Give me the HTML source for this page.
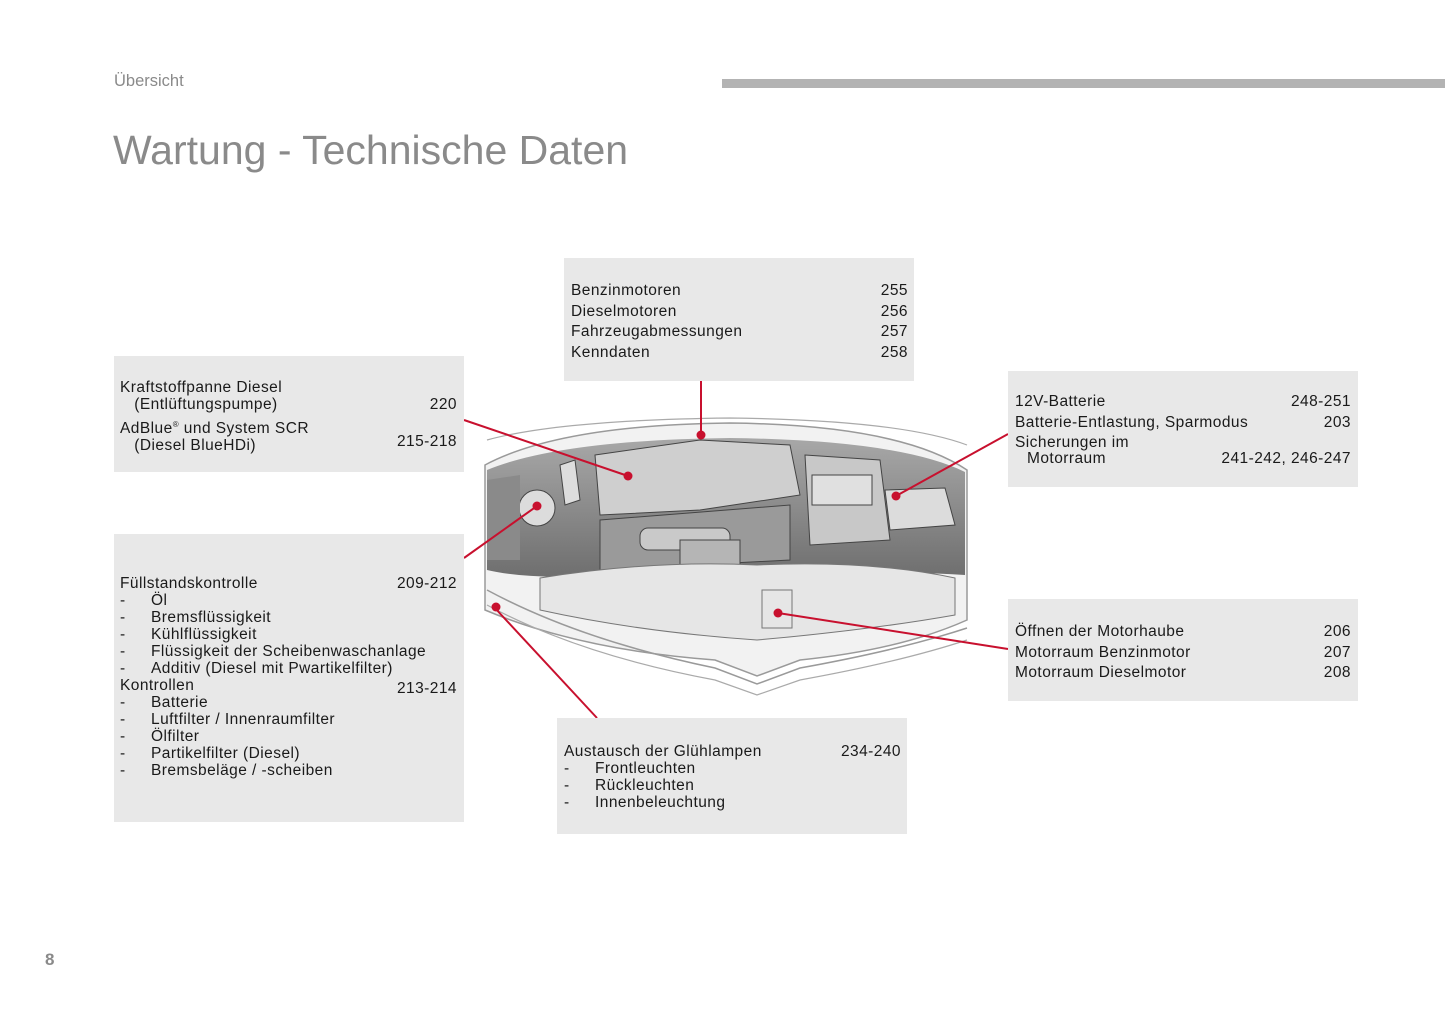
<!DOCTYPE html>
<html><head><meta charset="utf-8"><style>
body{margin:0;width:1445px;height:1026px;background:#fff;position:relative;overflow:hidden;font-family:"Liberation Sans",sans-serif;color:#1a1a1a}
.a{position:absolute}
.box{position:absolute;background:#e8e8e8}
.l{position:absolute;font-size:15.5px;letter-spacing:0.45px;line-height:17px;white-space:nowrap}
.r{position:absolute;font-size:15.5px;letter-spacing:0.45px;line-height:17px;text-align:right;white-space:nowrap}
.d{display:inline-block;width:31px}
.d2{display:inline-block;width:31px}
</style></head><body>
<div class="a" style="left:114px;top:72px;font-size:16.5px;color:#8a8a8a">Übersicht</div>
<div class="a" style="left:722px;top:79px;width:723px;height:9px;background:#b3b3b3"></div>
<div class="a" style="left:113px;top:125px;font-size:41px;color:#8a8a8a;line-height:50px">Wartung - Technische Daten</div>
<div class="a" style="left:45px;top:950px;font-size:17px;font-weight:bold;color:#8a8a8a">8</div>

<svg class="a" style="left:0;top:0" width="1445" height="1026">
<defs><linearGradient id="g" x1="0" y1="0" x2="0" y2="1"><stop offset="0" stop-color="#a8a8a8"/><stop offset="1" stop-color="#6e6e6e"/></linearGradient></defs>
<path d="M485 465 Q560 425 730 423 Q900 425 967 470 L967 620 Q900 650 800 660 L757 676 L715 660 Q580 650 485 610 Z" fill="#f2f2f2" stroke="#9a9a9a" stroke-width="1.5"/>
<path d="M487 470 Q560 440 730 438 Q900 440 965 472 L965 575 Q900 570 800 578 L600 575 Q530 580 487 570 Z" fill="url(#g)"/>
<path d="M595 455 L700 440 L790 445 L800 495 L700 510 L600 515 Z" fill="#cfcfcf" stroke="#444"/>
<path d="M600 520 L790 505 L790 560 L600 570 Z" fill="#9a9a9a" stroke="#444"/>
<rect x="640" y="528" width="90" height="22" rx="8" fill="#c9c9c9" stroke="#444"/>
<rect x="680" y="540" width="60" height="50" fill="#b5b5b5" stroke="#444"/>
<path d="M805 455 L880 460 L890 540 L810 545 Z" fill="#c8c8c8" stroke="#444"/>
<rect x="812" y="475" width="60" height="30" fill="#e0e0e0" stroke="#444"/>
<path d="M885 490 L945 488 L955 525 L890 530 Z" fill="#dcdcdc" stroke="#444"/>
<circle cx="537" cy="508" r="18" fill="#dcdcdc" stroke="#444"/>
<path d="M560 465 L575 460 L580 500 L565 505 Z" fill="#ddd" stroke="#444"/>
<path d="M487 480 L520 475 L520 560 L487 560 Z" fill="#8a8a8a"/>
<path d="M540 578 Q650 560 757 565 Q870 560 955 578 L955 615 Q870 630 757 640 Q640 632 540 610 Z" fill="#e6e6e6" stroke="#777"/>
<rect x="762" y="590" width="30" height="38" fill="#e6e6e6" stroke="#777"/>
<path d="M487 590 Q580 640 715 668 L757 684 L800 668 Q900 650 967 628" fill="none" stroke="#9a9a9a" stroke-width="1.5"/>
<path d="M487 605 Q580 655 715 680 L757 695 L800 680 Q900 662 967 640" fill="none" stroke="#aaa" stroke-width="1.2"/>
<path d="M487 440 Q560 420 730 418 Q900 420 967 445" fill="none" stroke="#aaa" stroke-width="1.2"/>
<g stroke="#c8102e" stroke-width="2" fill="none">
<line x1="464" y1="420" x2="628" y2="476"/><line x1="701" y1="381" x2="701" y2="435"/>
<line x1="1008" y1="434" x2="896" y2="496"/><line x1="464" y1="558" x2="537" y2="506"/>
<line x1="494" y1="607" x2="597" y2="718"/><line x1="1008" y1="649" x2="778" y2="613"/>
</g>
<g fill="#c8102e"><circle cx="628" cy="476" r="4.5"/><circle cx="701" cy="435" r="4.5"/><circle cx="896" cy="496" r="4.5"/><circle cx="537" cy="506" r="4.5"/><circle cx="496" cy="607" r="4.5"/><circle cx="778" cy="613" r="4.5"/></g>
</svg>

<div class="box" style="left:114px;top:356px;width:350px;height:116px"></div>
<div class="l" style="left:120px;top:379px">Kraftstoffpanne Diesel<br>&nbsp;&nbsp;&nbsp;(Entlüftungspumpe)</div>
<div class="r" style="right:988px;top:396px">220</div>
<div class="l" style="left:120px;top:416px">AdBlue<sup style="font-size:8px">®</sup> und System SCR<br>&nbsp;&nbsp;&nbsp;(Diesel BlueHDi)</div>
<div class="r" style="right:988px;top:433px">215-218</div>

<div class="box" style="left:114px;top:534px;width:350px;height:288px"></div>
<div class="l" style="left:120px;top:575px">Füllstandskontrolle<br><span class="d">-</span>Öl<br><span class="d">-</span>Bremsflüssigkeit<br><span class="d">-</span>Kühlflüssigkeit<br><span class="d">-</span>Flüssigkeit der Scheibenwaschanlage<br><span class="d">-</span>Additiv (Diesel mit Pwartikelfilter)<br>Kontrollen<br><span class="d">-</span>Batterie<br><span class="d">-</span>Luftfilter / Innenraumfilter<br><span class="d">-</span>Ölfilter<br><span class="d">-</span>Partikelfilter (Diesel)<br><span class="d">-</span>Bremsbeläge / -scheiben</div>
<div class="r" style="right:988px;top:575px">209-212</div>
<div class="r" style="right:988px;top:680px">213-214</div>

<div class="box" style="left:564px;top:258px;width:350px;height:123px"></div>
<div class="l" style="left:571px;top:281px;line-height:20.5px">Benzinmotoren<br>Dieselmotoren<br>Fahrzeugabmessungen<br>Kenndaten</div>
<div class="r" style="right:537px;top:281px;line-height:20.5px">255<br>256<br>257<br>258</div>

<div class="box" style="left:1008px;top:371px;width:350px;height:116px"></div>
<div class="l" style="left:1015px;top:392px;line-height:20.5px">12V-Batterie<br>Batterie-Entlastung, Sparmodus<br>Sicherungen im</div>
<div class="l" style="left:1027px;top:450px">Motorraum</div>
<div class="r" style="right:94px;top:392px;line-height:20.5px">248-251<br>203</div>
<div class="r" style="right:94px;top:450px">241-242, 246-247</div>

<div class="box" style="left:1008px;top:599px;width:350px;height:102px"></div>
<div class="l" style="left:1015px;top:622px;line-height:20.5px">Öffnen der Motorhaube<br>Motorraum Benzinmotor<br>Motorraum Dieselmotor</div>
<div class="r" style="right:94px;top:622px;line-height:20.5px">206<br>207<br>208</div>

<div class="box" style="left:557px;top:718px;width:350px;height:116px"></div>
<div class="l" style="left:564px;top:743px">Austausch der Glühlampen<br><span class="d">-</span>Frontleuchten<br><span class="d">-</span>Rückleuchten<br><span class="d">-</span>Innenbeleuchtung</div>
<div class="r" style="right:544px;top:743px">234-240</div>
</body></html>
